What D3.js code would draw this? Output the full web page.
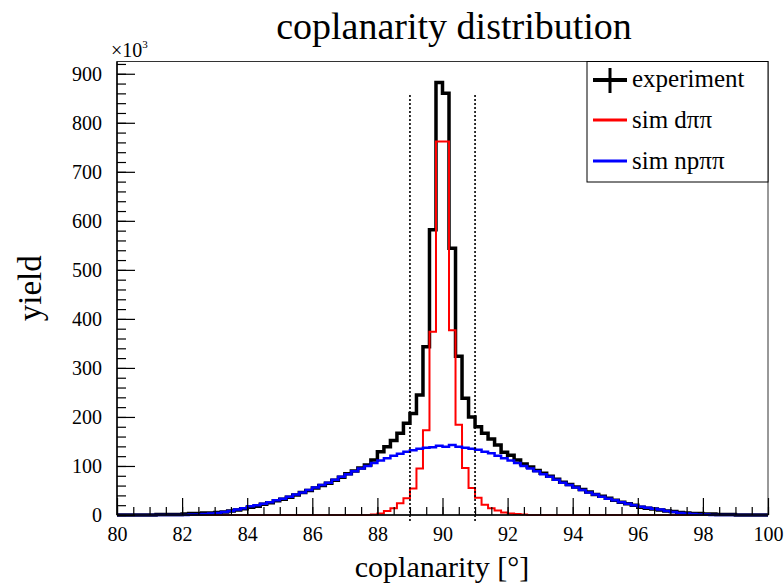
<!DOCTYPE html>
<html>
<head>
<meta charset="utf-8">
<title>coplanarity distribution</title>
<script src="https://d3js.org/d3.v7.min.js"></script>
<style>
  html, body { margin: 0; padding: 0; background: #fff; }
  svg text { font-family: 'Liberation Serif', 'DejaVu Serif', serif; fill: #000; }
</style>
</head>
<body>
<script>
// 100 bins of 0.2 degree, 80..100
var binEdges = d3.range(101).map(function (i) { return 80 + 0.2 * i; });

// yield in units of 10^3
var experiment = [
  0, 0, 0, 0, 0, 0, 1, 1, 1, 1,
  2, 3, 3, 4, 4, 5, 6, 8, 10, 13,
  16, 18, 22, 25, 29, 32, 36, 41, 46, 50,
  55, 60, 65, 71, 77, 84, 90, 96, 102, 112,
  129, 139, 152, 167, 187, 207, 245, 343, 582, 882,
  860, 544, 324, 238, 200, 180, 167, 155, 143, 128,
  122, 112, 104, 98, 91, 85, 79, 73, 67, 62,
  57, 52, 47, 42, 38, 34, 30, 26, 23, 20,
  16, 14, 12, 10, 8, 7, 5, 4, 3, 3,
  2, 2, 1, 1, 1, 0, 0, 0, 0, 0
];
var simDpipi = [
  0, 0, 0, 0, 0, 0, 0, 0, 0, 0,
  0, 0, 0, 0, 0, 0, 0, 0, 0, 0,
  0, 0, 0, 0, 0, 0, 0, 0, 0, 0,
  0, 0, 0, 0, 0, 0, 0, 0, 0, 1,
  3, 8, 14, 24, 34, 54, 95, 173, 374, 762,
  762, 377, 184, 96, 55, 35, 21, 14, 9, 5,
  3, 2, 1, 0, 0, 0, 0, 0, 0, 0,
  0, 0, 0, 0, 0, 0, 0, 0, 0, 0,
  0, 0, 0, 0, 0, 0, 0, 0, 0, 0,
  0, 0, 0, 0, 0, 0, 0, 0, 0, 0
];
var simNppipi = [
  0, 0, 0, 0, 0, 0, 0, 0, 0, 0,
  0, 1, 1, 2, 3, 4, 6, 8, 11, 14,
  18, 20, 23, 26, 30, 33, 37, 42, 46, 51,
  56, 61, 66, 72, 78, 83, 89, 95, 100, 106,
  111, 116, 121, 125, 129, 132, 135, 137, 138, 141,
  139, 143, 139, 137, 135, 133, 129, 126, 121, 116,
  111, 106, 100, 95, 89, 83, 78, 72, 66, 61,
  56, 51, 46, 42, 37, 33, 30, 26, 23, 20,
  17, 15, 13, 11, 8, 6, 4, 3, 2, 1,
  1, 0, 0, 0, 0, 0, 0, 0, 0, 0
];

var xTicks = [80, 82, 84, 86, 88, 90, 92, 94, 96, 98, 100];
var yTicks = [0, 100, 200, 300, 400, 500, 600, 700, 800, 900];
var cutLines = [89, 91];
var cutRange = [-12, 860];

var legendItems = [
  { label: "sim dππ", color: "#ff0000" },
  { label: "sim npππ", color: "#0000ff" }
];

var W = 784, H = 584;
var fL = 117, fR = 768, fT = 61.5, fB = 515;

var svg = d3.select("body").append("svg")
  .attr("width", W)
  .attr("height", H);

var x = d3.scaleLinear().domain([80, 100]).range([fL, fR]);
var y = d3.scaleLinear().domain([0, 925]).range([fB, fT]);

// histograms as step lines
var step = d3.line()
  .x(function (d) { return x(d[0]); })
  .y(function (d) { return y(d[1]); })
  .curve(d3.curveStepAfter);

function pts(vals) {
  var p = vals.map(function (v, i) { return [binEdges[i], v]; });
  p.push([binEdges[binEdges.length - 1], vals[vals.length - 1]]);
  return p;
}

svg.append("path").datum(pts(experiment))
  .attr("d", step).attr("fill", "none")
  .attr("stroke", "#000").attr("stroke-width", 3.5);
svg.append("path").datum(pts(simDpipi))
  .attr("d", step).attr("fill", "none")
  .attr("stroke", "#ff0000").attr("stroke-width", 2);
svg.append("path").datum(pts(simNppipi))
  .attr("d", step).attr("fill", "none")
  .attr("stroke", "#0000ff").attr("stroke-width", 2.5);

// cut lines
svg.selectAll(".cut").data(cutLines).enter().append("line")
  .attr("class", "cut")
  .attr("x1", function (d) { return x(d); })
  .attr("x2", function (d) { return x(d); })
  .attr("y1", y(cutRange[0]))
  .attr("y2", y(cutRange[1]))
  .attr("stroke", "#000")
  .attr("stroke-width", 1.6)
  .attr("stroke-dasharray", "2,2");

// frame
svg.append("rect")
  .attr("x", fL).attr("y", fT)
  .attr("width", fR - fL).attr("height", fB - fT)
  .attr("fill", "none").attr("stroke", "#333").attr("stroke-width", 1);

// axes, ticks inward
var gx = svg.append("g").attr("transform", "translate(0," + fB + ")");
gx.append("g").call(d3.axisBottom(x).tickValues(d3.range(80, 100.01, 0.5)).tickSize(-8).tickFormat(""));
gx.append("g").call(d3.axisBottom(x).tickValues(xTicks).tickSizeInner(-17).tickSizeOuter(0).tickPadding(11));
var gy = svg.append("g").attr("transform", "translate(" + fL + ",0)");
gy.append("g").call(d3.axisLeft(y).tickValues(d3.range(0, 925, 20)).tickSize(-9).tickFormat(""));
gy.append("g").call(d3.axisLeft(y).tickValues(yTicks).tickSizeInner(-18).tickSizeOuter(0).tickPadding(15));
svg.selectAll(".domain").remove();
svg.selectAll(".tick line").attr("stroke", "#000").attr("stroke-width", 1.2);
svg.selectAll(".tick text")
  .style("font-family", "'Liberation Serif', serif")
  .style("font-size", "20px")
  .attr("fill", "#000");
gx.selectAll(".tick text").attr("dy", "0.75em");

svg.append("line").attr("x1", fL).attr("x2", fR).attr("y1", fB).attr("y2", fB)
  .attr("stroke", "#000").attr("stroke-width", 1.5);
svg.append("line").attr("x1", fL).attr("x2", fL).attr("y1", fT).attr("y2", fB)
  .attr("stroke", "#000").attr("stroke-width", 1.5);

// x10^3
var mult = svg.append("text").attr("x", 111).attr("y", 57).style("font-size", "20px");
mult.append("tspan").text("×10");
mult.append("tspan").attr("dy", -9).style("font-size", "11px").text("3");

// titles
svg.append("text").attr("x", 454).attr("y", 39)
  .attr("text-anchor", "middle").style("font-size", "38px")
  .text("coplanarity distribution");
svg.append("text").attr("x", 442).attr("y", 577)
  .attr("text-anchor", "middle").style("font-size", "30px")
  .text("coplanarity [°]");
svg.append("text")
  .attr("transform", "translate(41," + ((fT + fB) / 2) + ") rotate(-90)")
  .attr("text-anchor", "middle").style("font-size", "33px")
  .text("yield");

// legend
var lg = svg.append("g");
lg.append("rect").attr("x", 587).attr("y", fT).attr("width", fR - 587).attr("height", 120.5)
  .attr("fill", "#fff").attr("stroke", "#000").attr("stroke-width", 1);
lg.append("line").attr("x1", 593).attr("x2", 627).attr("y1", 80).attr("y2", 80)
  .attr("stroke", "#000").attr("stroke-width", 4);
lg.append("line").attr("x1", 610).attr("x2", 610).attr("y1", 68).attr("y2", 93)
  .attr("stroke", "#000").attr("stroke-width", 3);
lg.append("text").attr("x", 632).attr("y", 87).style("font-size", "25px").text("experiment");
legendItems.forEach(function (d, i) {
  var yy = 120 + i * 41;
  lg.append("line").attr("x1", 593).attr("x2", 627).attr("y1", yy).attr("y2", yy)
    .attr("stroke", d.color).attr("stroke-width", 3);
  lg.append("text").attr("x", 632).attr("y", yy + 8).style("font-size", "25px").text(d.label);
});
</script>
</body>
</html>
